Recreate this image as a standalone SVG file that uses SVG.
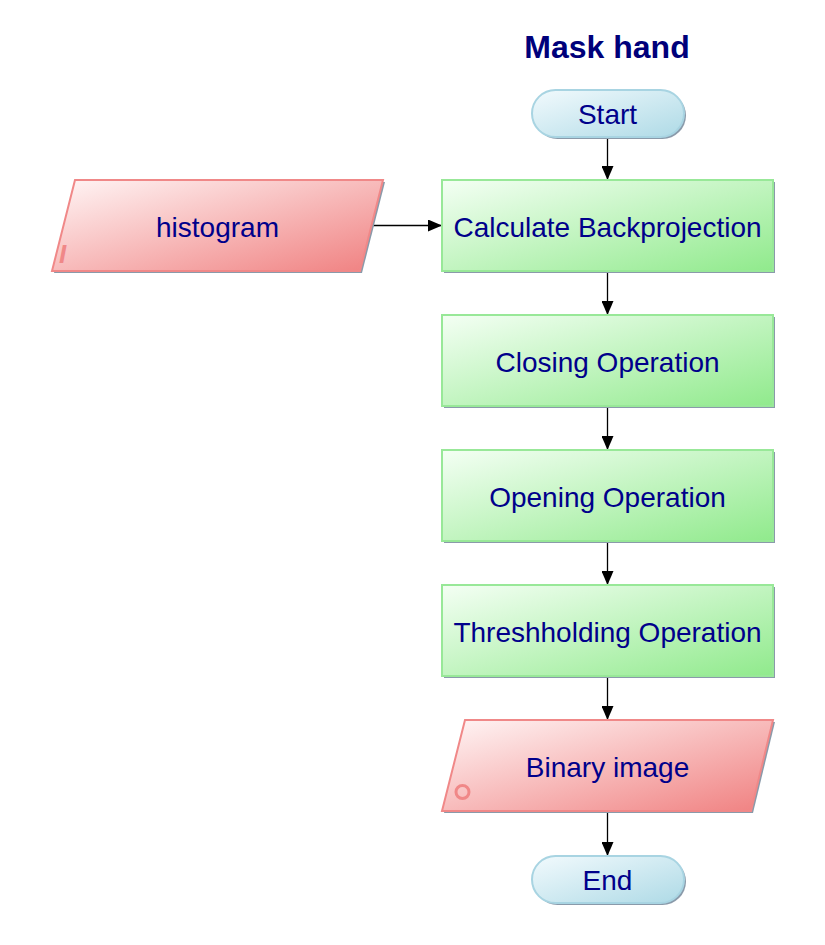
<svg xmlns="http://www.w3.org/2000/svg" width="825" height="945" viewBox="0 0 825 945">
<defs>
<linearGradient id="gGreen" x1="0" y1="0" x2="1" y2="1">
<stop offset="0" stop-color="#F4FFF4"/><stop offset="1" stop-color="#90EA8C"/>
</linearGradient>
<linearGradient id="gRed" x1="0" y1="0" x2="1" y2="1">
<stop offset="0" stop-color="#FFF6F6"/><stop offset="1" stop-color="#F08080"/>
</linearGradient>
<linearGradient id="gBlue" x1="0" y1="0" x2="1" y2="1">
<stop offset="0" stop-color="#F2FAFD"/><stop offset="1" stop-color="#AEDAE6"/>
</linearGradient>
<marker id="arr" markerWidth="14" markerHeight="12" refX="14" refY="6" orient="auto" markerUnits="userSpaceOnUse">
<path d="M0,0 L14,6 L0,12 Z" fill="#000"/>
</marker>
</defs>
<style>
.t{font-family:"Liberation Sans",Arial,sans-serif;font-size:28px;fill:#00008B;text-anchor:middle;dominant-baseline:central}
.title{font-family:"Liberation Sans",Arial,sans-serif;font-size:32px;font-weight:bold;fill:#00007A;text-anchor:middle}
.proc{fill:url(#gGreen);stroke:#98E898;stroke-width:2}
.io{fill:url(#gRed);stroke:#F08888;stroke-width:2}
.term{fill:url(#gBlue);stroke:#A8D4E2;stroke-width:2}
.sh{fill:#8A9AAA}
.tag{font-family:"Liberation Sans",Arial,sans-serif;font-size:26px;font-style:italic;font-weight:bold;fill:#F08888}
.c{stroke:#000;stroke-width:1.3;fill:none;marker-end:url(#arr)}
</style>
<text class="title" x="607" y="58">Mask hand</text>
<g id="connectors">
<line class="c" x1="607.5" y1="137" x2="607.5" y2="180"/>
<line class="c" x1="372" y1="225.5" x2="442" y2="225.5"/>
<line class="c" x1="607.5" y1="271" x2="607.5" y2="315"/>
<line class="c" x1="607.5" y1="406" x2="607.5" y2="450"/>
<line class="c" x1="607.5" y1="541" x2="607.5" y2="585"/>
<line class="c" x1="607.5" y1="676" x2="607.5" y2="720"/>
<line class="c" x1="607.5" y1="811" x2="607.5" y2="856"/>
</g>
<g id="start">
<rect class="sh" x="534" y="92" width="152" height="47" rx="23.5"/>
<rect class="term" x="532" y="90" width="152" height="47" rx="23.5"/>
<text class="t" x="607.5" y="114.5">Start</text>
</g>
<g id="histogram">
<polygon class="sh" points="77,182 385,182 362,273 54,273"/>
<polygon class="io" points="75,180 383,180 360,271 52,271"/>
<text class="t" x="217.5" y="227">histogram</text>
<text class="tag" x="59" y="263">I</text>
</g>
<g id="backprojection">
<rect class="sh" x="444" y="182" width="331" height="91"/>
<rect class="proc" x="442" y="180" width="331" height="91"/>
<text class="t" x="607.5" y="227">Calculate Backprojection</text>
</g>
<g id="closing">
<rect class="sh" x="444" y="317" width="331" height="91"/>
<rect class="proc" x="442" y="315" width="331" height="91"/>
<text class="t" x="607.5" y="362">Closing Operation</text>
</g>
<g id="opening">
<rect class="sh" x="444" y="452" width="331" height="91"/>
<rect class="proc" x="442" y="450" width="331" height="91"/>
<text class="t" x="607.5" y="497">Opening Operation</text>
</g>
<g id="threshholding">
<rect class="sh" x="444" y="587" width="331" height="91"/>
<rect class="proc" x="442" y="585" width="331" height="91"/>
<text class="t" x="607.5" y="632">Threshholding Operation</text>
</g>
<g id="binary">
<polygon class="sh" points="467,722 775,722 753,813 444,813"/>
<polygon class="io" points="465,720 773,720 751,811 442,811"/>
<text class="t" x="607.5" y="767">Binary image</text>
<circle cx="462.5" cy="792" r="6.5" fill="none" stroke="#F08888" stroke-width="3"/>
</g>
<g id="end">
<rect class="sh" x="534" y="858" width="152" height="47" rx="23.5"/>
<rect class="term" x="532" y="856" width="152" height="47" rx="23.5"/>
<text class="t" x="607.5" y="880">End</text>
</g>
</svg>
